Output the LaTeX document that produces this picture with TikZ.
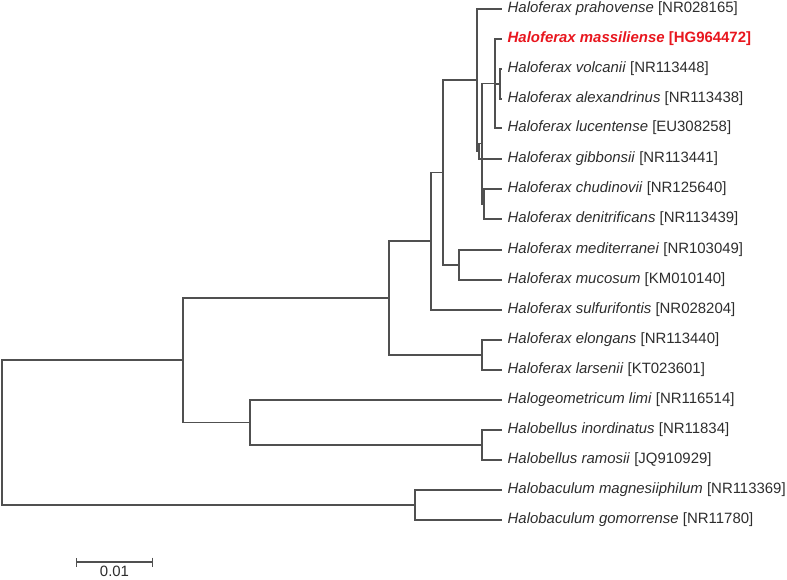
\documentclass[tikz,border=0pt]{standalone}
\usepackage{fontspec}
\setmainfont{Liberation Sans}
\usepackage{xcolor}
\usetikzlibrary{arrows.meta,calc}
\definecolor{branchgray}{RGB}{80,80,80}
\definecolor{labelgray}{RGB}{45,45,45}
\definecolor{typered}{RGB}{232,22,30}

\begin{document}
\begin{tikzpicture}[x=1bp,y=-1bp,
  branch/.style={draw=branchgray,line width=1.2bp},
  leaf/.style={anchor=west,inner xsep=5.5bp,inner ysep=0pt,text=labelgray,
    font=\fontsize{15}{17}\selectfont}]
  \useasboundingbox (0,0) rectangle (787,580);
  % leaf labels
  \foreach \n/\y/\sp/\acc in {prah/9/Haloferax prahovense/NR028165,
      volc/69/Haloferax volcanii/NR113448, alex/99/Haloferax alexandrinus/NR113438,
      luce/128/Haloferax lucentense/EU308258, gibb/159/Haloferax gibbonsii/NR113441,
      chud/189/Haloferax chudinovii/NR125640, deni/219/Haloferax denitrificans/NR113439,
      medi/250/Haloferax mediterranei/NR103049, muco/280/Haloferax mucosum/KM010140,
      sulf/310/Haloferax sulfurifontis/NR028204, elon/340/Haloferax elongans/NR113440,
      lars/370/Haloferax larsenii/KT023601, geom/400/Halogeometricum limi/NR116514,
      inor/430/Halobellus inordinatus/NR11834, ramo/460/Halobellus ramosii/JQ910929,
      magn/490/Halobaculum magnesiiphilum/NR113369, gomo/520/Halobaculum gomorrense/NR11780} {
    \node[leaf] (\n) at (502,\y) {\textit{\sp} [\acc]};
  }
  \node[leaf,text=typered,font=\fontsize{15}{17}\selectfont\bfseries] (mass) at (502,39)
    {\textit{Haloferax massiliense} [HG964472]};
  % inner nodes
  \coordinate (va) at (500,84);
  \coordinate (mc) at (495,83.5);
  \coordinate (cd) at (484,204);
  \coordinate (c)  at (482,143.5);
  \coordinate (b)  at (479,151);
  \coordinate (a)  at (477,80);
  \coordinate (mm) at (459,265);
  \coordinate (e)  at (443,172.5);
  \coordinate (f)  at (431,241);
  \coordinate (el) at (482,355);
  \coordinate (g)  at (389,298);
  \coordinate (hb) at (482,445);
  \coordinate (h)  at (250,422.5);
  \coordinate (i)  at (183,360);
  \coordinate (ba) at (415,505);
  \coordinate (r)  at (2,432.5);
  % branches
  \foreach \p/\c in {va/volc, va/alex, mc/mass, mc/va, mc/luce, cd/chud, cd/deni,
      c/mc, c/cd, b/c, b/gibb, a/prah, a/b, mm/medi, mm/muco, e/a, e/mm,
      f/e, f/sulf, el/elon, el/lars, g/f, g/el, hb/inor, hb/ramo, h/geom, h/hb,
      i/g, i/h, ba/magn, ba/gomo, r/i, r/ba} {
    \draw[branch] (\p) |- (\c);
  }
  % scale bar
  \coordinate (sbl) at (76,562);
  \coordinate (sbr) at (153,562);
  \draw[branch,{Bar[width=9bp]}-{Bar[width=9bp]}] (sbl) -- (sbr);
  \node[text=labelgray,font=\fontsize{15}{17}\selectfont,anchor=north,inner sep=4bp]
    (sblab) at ($(sbl)!0.5!(sbr)$) {0.01};
\end{tikzpicture}
\end{document}
